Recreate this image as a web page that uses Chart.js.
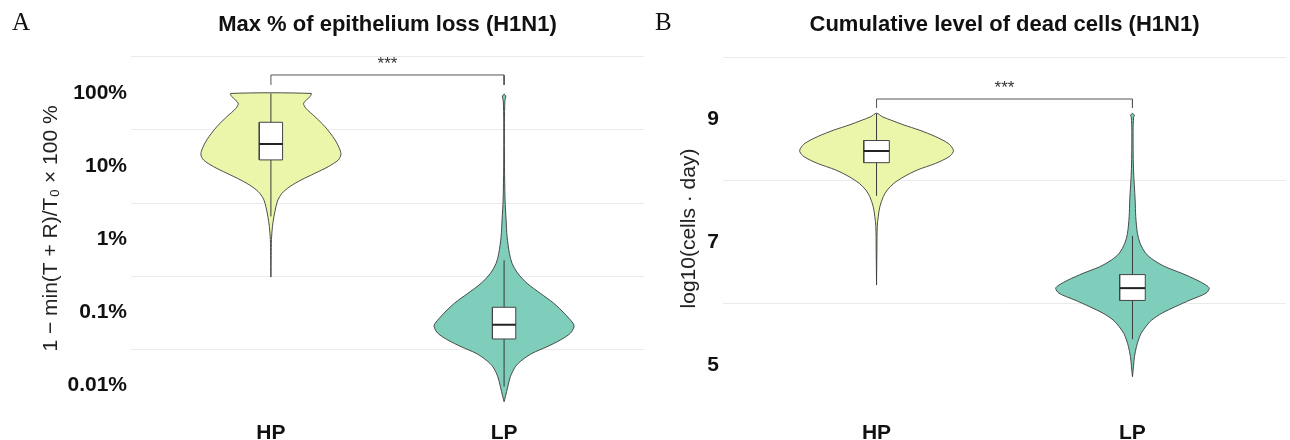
<!DOCTYPE html>
<html><head><meta charset="utf-8">
<script src="https://cdn.jsdelivr.net/npm/chart.js@4.4.0/dist/chart.umd.min.js"></script>
<style>
html,body{margin:0;padding:0;background:#fff;}
#wrap{position:relative;width:1290px;height:440px;overflow:hidden;}
.pane{position:absolute;top:0;width:645px;height:440px;}
</style></head><body>
<div id="wrap">
<div class="pane" style="left:0"><canvas id="cA" width="645" height="440"></canvas></div>
<div class="pane" style="left:645px"><canvas id="cB" width="645" height="440"></canvas></div>
</div>
<script>
// ---------- data ----------
const categories = ['HP', 'LP'];

// Panel A: max % of epithelium loss (log axis, percent)
const A_HP_values = [0.306, 0.6, 1.0, 1.5, 2.05, 2.81, 3.48, 4.29, 5.29, 6.53, 8.07, 9.94, 12.3, 14.4, 16.8, 23.1, 35.1, 48.1, 62.7, 73.5, 90.4, 100];
const A_HP_density = [0, 0.004, 0.008, 0.022, 0.043, 0.072, 0.10, 0.158, 0.269, 0.432, 0.629, 0.82, 0.964, 1.0, 0.988, 0.917, 0.773, 0.629, 0.50, 0.468, 0.557, 0.576];
const A_LP_values = [0.006, 0.00703, 0.00964, 0.0132, 0.0181, 0.0223, 0.0276, 0.034, 0.042, 0.0519, 0.0638, 0.0711, 0.0975, 0.134, 0.183, 0.251, 0.344, 0.472, 0.647, 1.09, 1.85, 3.48, 10, 40, 80, 90, 98];
const A_LP_density = [0, 0.019, 0.053, 0.09, 0.161, 0.257, 0.4, 0.614, 0.804, 0.947, 1.0, 0.986, 0.861, 0.71, 0.519, 0.329, 0.196, 0.114, 0.076, 0.043, 0.029, 0.014, 0.006, 0.005, 0.012, 0.025, 0];
// box stats: [lower whisker, q1, median, q3, upper whisker]
const A_HP_box = [2.07, 12.3, 20.3, 40.3, 100];
const A_LP_box = [0.0097, 0.0434, 0.068, 0.118, 0.52];
const A_bracket = [130.7, 179];   // [tick end, bracket top]
const A_star = 213;
const A_majorTicks = [0.01, 0.1, 1, 10, 100];
const A_tickLabels = ['0.01%', '0.1%', '1%', '10%', '100%'];
const A_minorGrid = [0.0316, 0.316, 3.16, 31.6, 316];
const A_range = [0.00434, 461];

// Panel B: cumulative level of dead cells (log10 cells·day)
const B_HP_values = [6.30, 6.9, 7.249, 7.411, 7.574, 7.737, 7.846, 7.954, 8.062, 8.171, 8.279, 8.387, 8.469, 8.524, 8.605, 8.712, 8.821, 8.902, 8.984, 9.037, 9.093];
const B_HP_density = [0, 0.005, 0.009, 0.022, 0.043, 0.088, 0.14, 0.226, 0.357, 0.532, 0.771, 0.945, 1.0, 0.99, 0.932, 0.771, 0.553, 0.357, 0.183, 0.075, 0];
const B_LP_values = [4.81, 4.972, 5.135, 5.298, 5.407, 5.515, 5.623, 5.732, 5.841, 5.948, 6.057, 6.166, 6.247, 6.301, 6.382, 6.491, 6.598, 6.707, 6.816, 6.979, 7.141, 7.411, 7.683, 8.2, 8.8, 9.03, 9.06, 9.09];
const B_LP_density = [0, 0.013, 0.026, 0.052, 0.078, 0.113, 0.173, 0.252, 0.382, 0.557, 0.752, 0.956, 1.0, 0.956, 0.838, 0.643, 0.426, 0.274, 0.173, 0.1, 0.065, 0.043, 0.035, 0.013, 0.008, 0.015, 0.025, 0];
const B_HP_box = [7.75, 8.29, 8.48, 8.65, 9.09];
const B_LP_box = [5.42, 6.05, 6.25, 6.47, 7.10];
const B_bracket = [9.179, 9.325];
const B_star = 9.415;
const B_majorTicks = [5, 7, 9];
const B_tickLabels = ['5', '7', '9'];
const B_minorGrid = [6, 8, 10];
const B_range = [4.236, 10.203];

// ---------- styling ----------
const FILL = ['#ecf6ab', '#7fcdbb'];
const VIOLIN_HALF = 0.3;
const BOX_HALF = 0.05;
const SANS = "'Liberation Sans', Arial, sans-serif";

function violinPoints(center, vals, dens) {
  const pts = [];
  for (let i = 0; i < vals.length; i++) pts.push({x: center + dens[i] * VIOLIN_HALF, y: vals[i]});
  for (let i = vals.length - 1; i >= 0; i--) {
    if (i === vals.length - 1 && dens[i] === 0) continue;
    pts.push({x: center - dens[i] * VIOLIN_HALF, y: vals[i]});
  }
  return pts;
}
function groupDatasets(center, vals, dens, box, color) {
  const [lo, q1, med, q3, hi] = box;
  const base = {type: 'scatter', showLine: true, pointRadius: 0, pointHoverRadius: 0};
  return [
    Object.assign({}, base, {data: violinPoints(center, vals, dens), borderColor: '#3a3a3a', borderWidth: 0.9,
      backgroundColor: color, fill: 'shape', tension: 0.3, order: 5}),
    Object.assign({}, base, {data: [{x: center, y: lo}, {x: center, y: hi}], borderColor: '#3a3a3a', borderWidth: 1, fill: false, order: 4}),
    Object.assign({}, base, {data: [{x: center - BOX_HALF, y: q1}, {x: center + BOX_HALF, y: q1}, {x: center + BOX_HALF, y: q3},
      {x: center - BOX_HALF, y: q3}, {x: center - BOX_HALF, y: q1}], borderColor: '#444', borderWidth: 1,
      backgroundColor: '#ffffff', fill: 'shape', tension: 0, order: 3}),
    Object.assign({}, base, {data: [{x: center - BOX_HALF, y: med}, {x: center + BOX_HALF, y: med}], borderColor: '#222', borderWidth: 2, fill: false, order: 2})
  ];
}

const decorPlugin = {
  id: 'decor',
  afterDraw(chart, args, opts) {
    const {ctx, chartArea, scales} = chart;
    ctx.save();
    ctx.fillStyle = '#111';
    ctx.textBaseline = 'alphabetic';
    ctx.textAlign = 'left';
    ctx.font = "25px 'Liberation Serif', 'Times New Roman', serif";
    ctx.fillText(opts.letter, opts.letterX, 30);
    ctx.textAlign = 'center';
    ctx.font = 'bold 22px ' + SANS;
    ctx.fillText(opts.title, (chartArea.left + chartArea.right) / 2, 31);
    ctx.fillStyle = '#333';
    ctx.font = '17px ' + SANS;
    ctx.fillText('***', scales.x.getPixelForValue(1.5), scales.y.getPixelForValue(opts.star));
    ctx.restore();
  }
};

function makeChart(id, p) {
  const datasets = [
    ...groupDatasets(1, p.hpVals, p.hpDens, p.hpBox, FILL[0]),
    ...groupDatasets(2, p.lpVals, p.lpDens, p.lpBox, FILL[1]),
    {type: 'scatter', showLine: true, pointRadius: 0, fill: false, borderColor: '#555', borderWidth: 1, order: 1,
      data: [{x: 1, y: p.bracket[0]}, {x: 1, y: p.bracket[1]}, {x: 2, y: p.bracket[1]}, {x: 2, y: p.bracket[0]}]}
  ];
  const allTicks = [...p.major, ...p.minor].sort((a, b) => a - b);
  return new Chart(document.getElementById(id), {
    type: 'scatter',
    data: {datasets},
    plugins: [decorPlugin],
    options: {
      responsive: false, animation: false, events: [],
      layout: {padding: {left: 0, right: p.padRight, top: 45, bottom: 0}},
      plugins: {legend: {display: false}, tooltip: {enabled: false},
        decor: {letter: p.letter, letterX: p.letterX, title: p.title, star: p.star}},
      scales: {
        x: {type: 'linear', min: 0.4, max: 2.6,
          afterBuildTicks: s => { s.ticks = categories.map((c, i) => ({value: i + 1})); },
          afterFit: s => { s.height = 28; },
          grid: {display: false, drawTicks: false}, border: {display: false},
          ticks: {autoSkip: false, maxRotation: 0, padding: 9, color: '#111', font: {family: SANS, size: 21, weight: 'bold'},
            callback: v => categories[Math.round(v) - 1]}},
        y: {type: p.yType, min: p.range[0], max: p.range[1],
          afterBuildTicks: s => { s.ticks = allTicks.map(v => ({value: v})); },
          afterFit: s => { s.width = p.axisWidth; },
          grid: {drawTicks: false, lineWidth: 1, color: c => (c.tick && p.major.includes(c.tick.value)) ? 'rgba(0,0,0,0)' : '#ebebeb'},
          border: {display: false},
          ticks: {autoSkip: false, padding: 4, color: '#111', font: {family: SANS, size: 21, weight: 'bold'},
            callback: v => { const i = p.major.indexOf(v); return i >= 0 ? p.labels[i] : ''; }},
          title: {display: true, text: p.yTitle, color: '#222', font: {family: SANS, size: p.titleSize}, padding: {top: p.titlePad, bottom: 0}}}
      }
    }
  });
}

makeChart('cA', {
  hpVals: A_HP_values, hpDens: A_HP_density, hpBox: A_HP_box,
  lpVals: A_LP_values, lpDens: A_LP_density, lpBox: A_LP_box,
  bracket: A_bracket, star: A_star, major: A_majorTicks, labels: A_tickLabels, minor: A_minorGrid,
  range: A_range, yType: 'logarithmic', axisWidth: 131, padRight: 1, titlePad: 39, titleSize: 21,
  yTitle: '1 − min(T + R)/T₀ × 100 %', letter: 'A', letterX: 12, title: 'Max % of epithelium loss (H1N1)'
});
makeChart('cB', {
  hpVals: B_HP_values, hpDens: B_HP_density, hpBox: B_HP_box,
  lpVals: B_LP_values, lpDens: B_LP_density, lpBox: B_LP_box,
  bracket: B_bracket, star: B_star, major: B_majorTicks, labels: B_tickLabels, minor: B_minorGrid,
  range: B_range, yType: 'linear', axisWidth: 78, padRight: 4, titlePad: 32, titleSize: 21,
  yTitle: 'log10(cells · day)', letter: 'B', letterX: 10, title: 'Cumulative level of dead cells (H1N1)'
});
</script>
</body></html>
